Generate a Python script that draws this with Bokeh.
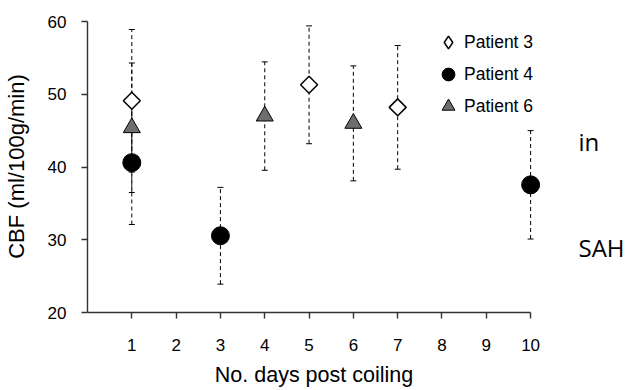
import math
from bokeh.plotting import figure
from bokeh.layouts import row
from bokeh.models import (ColumnDataSource, Whisker, TeeHead, Legend, LegendItem,
                          Range1d, FixedTicker, Label)
from bokeh.embed import file_html
from bokeh.resources import INLINE

# ---- data ----
p3_days = [1, 5, 7]
p3_cbf = [49.1, 51.3, 48.2]
p3_err = [9.8, 8.1, 8.5]

p4_days = [1, 3, 10]
p4_cbf = [40.6, 30.55, 37.55]
p4_err = [8.5, 6.65, 7.45]

p6_days = [1, 4, 6]
p6_cbf = [45.4, 47.0, 46.0]
p6_err = [8.9, 7.45, 7.9]

x_ticks = [1, 2, 3, 4, 5, 6, 7, 8, 9, 10]
y_ticks = [20, 30, 40, 50, 60]
series_names = ["Patient 3", "Patient 4", "Patient 6"]
x_title = "No. days post coiling"
y_title = "CBF (ml/100g/min)"
side_texts = ["in", "SAH"]

FONT = "Liberation Sans"

p = figure(width=540, height=390, output_backend="svg", toolbar_location=None,
           x_range=Range1d(0, 10.223), y_range=Range1d(20, 60.14),
           min_border_left=86, min_border_right=0, min_border_top=20,
           min_border_bottom=78)
p.outline_line_color = None
p.xgrid.visible = False
p.ygrid.visible = False
p.background_fill_color = "white"

def make_src(days, cbf, err):
    return ColumnDataSource(dict(x=days, y=cbf,
                                 upper=[c + e for c, e in zip(cbf, err)],
                                 lower=[c - e for c, e in zip(cbf, err)]))

s3 = make_src(p3_days, p3_cbf, p3_err)
s4 = make_src(p4_days, p4_cbf, p4_err)
s6 = make_src(p6_days, p6_cbf, p6_err)

for src in (s3, s4, s6):
    w = Whisker(base="x", upper="upper", lower="lower", source=src,
                line_color="black", line_width=1, line_dash="4 3",
                upper_head=TeeHead(size=6, line_color="black", line_width=1),
                lower_head=TeeHead(size=6, line_color="black", line_width=1),
                level="underlay")
    p.add_layout(w)

r3 = p.scatter("x", "y", source=s3, marker="square", angle=math.pi / 4, size=12,
               fill_color="white", line_color="black", line_width=1.5)
r4 = p.scatter("x", "y", source=s4, marker="circle", size=18,
               fill_color="black", line_color="black", line_width=1)
r6 = p.scatter("x", "y", source=s6, marker="triangle", size=17,
               fill_color="#6e6e6e", line_color="black", line_width=1)
# legend key for Patient 3 (legend keys ignore marker angle, so use a diamond)
r3_key = p.scatter("x", "y", source=s3, marker="diamond", size=12,
                   fill_color="white", line_color="black", line_width=1.5,
                   visible=False)

# axes
for ax in (p.xaxis, p.yaxis):
    ax.axis_line_color = "#333333"
    ax.axis_line_width = 1.4
    ax.major_tick_line_color = "#333333"
    ax.major_tick_line_width = 1.4
    ax.major_tick_out = 6
    ax.major_tick_in = 0
    ax.minor_tick_line_color = None
    ax.major_label_text_font = FONT
    ax.major_label_text_font_size = "17px"
    ax.major_label_text_color = "black"
    ax.axis_label_text_font = FONT
    ax.axis_label_text_font_style = "normal"
    ax.axis_label_text_color = "black"

p.xaxis.bounds = (0, 10)
p.yaxis.bounds = (20, 60)
p.xaxis.ticker = FixedTicker(ticks=x_ticks)
p.yaxis.ticker = FixedTicker(ticks=y_ticks)
p.yaxis.axis_label = y_title
p.yaxis.axis_label_text_font_size = "22px"
p.xaxis.axis_label = x_title
p.xaxis.axis_label_text_font_size = "21.5px"
p.xaxis.major_label_standoff = 20
p.xaxis.axis_label_standoff = 9
p.yaxis.major_label_standoff = 15
p.yaxis.axis_label_standoff = 16

legend = Legend(items=[LegendItem(label=series_names[0], renderers=[r3_key]),
                       LegendItem(label=series_names[1], renderers=[r4]),
                       LegendItem(label=series_names[2], renderers=[r6])],
                location=(345, 190), glyph_width=32, glyph_height=32,
                label_standoff=0, spacing=0, padding=0, margin=0,
                border_line_color=None, background_fill_alpha=0,
                inactive_fill_alpha=0,
                label_text_font=FONT, label_text_font_size="17.5px",
                label_text_color="black")
p.add_layout(legend)

# side panel with the "in" / "SAH" texts
p2 = figure(width=89, height=390, output_backend="svg", toolbar_location=None,
            x_range=Range1d(0, 89), y_range=Range1d(9.28, 62.89),
            x_axis_type=None, y_axis_type=None, min_border=0)
p2.outline_line_color = None
p2.add_layout(Label(x=38, y=40.6, text=side_texts[0], text_font="Open Sans",
                    text_font_size="24px", text_color="black",
                    text_baseline="alphabetic"))
p2.add_layout(Label(x=38, y=21.3, text=side_texts[1], text_font="Open Sans",
                    text_font_size="24px", text_color="black",
                    text_baseline="alphabetic"))

layout = row(p, p2, spacing=0)
open("out.html", "w").write(file_html(layout, INLINE))
